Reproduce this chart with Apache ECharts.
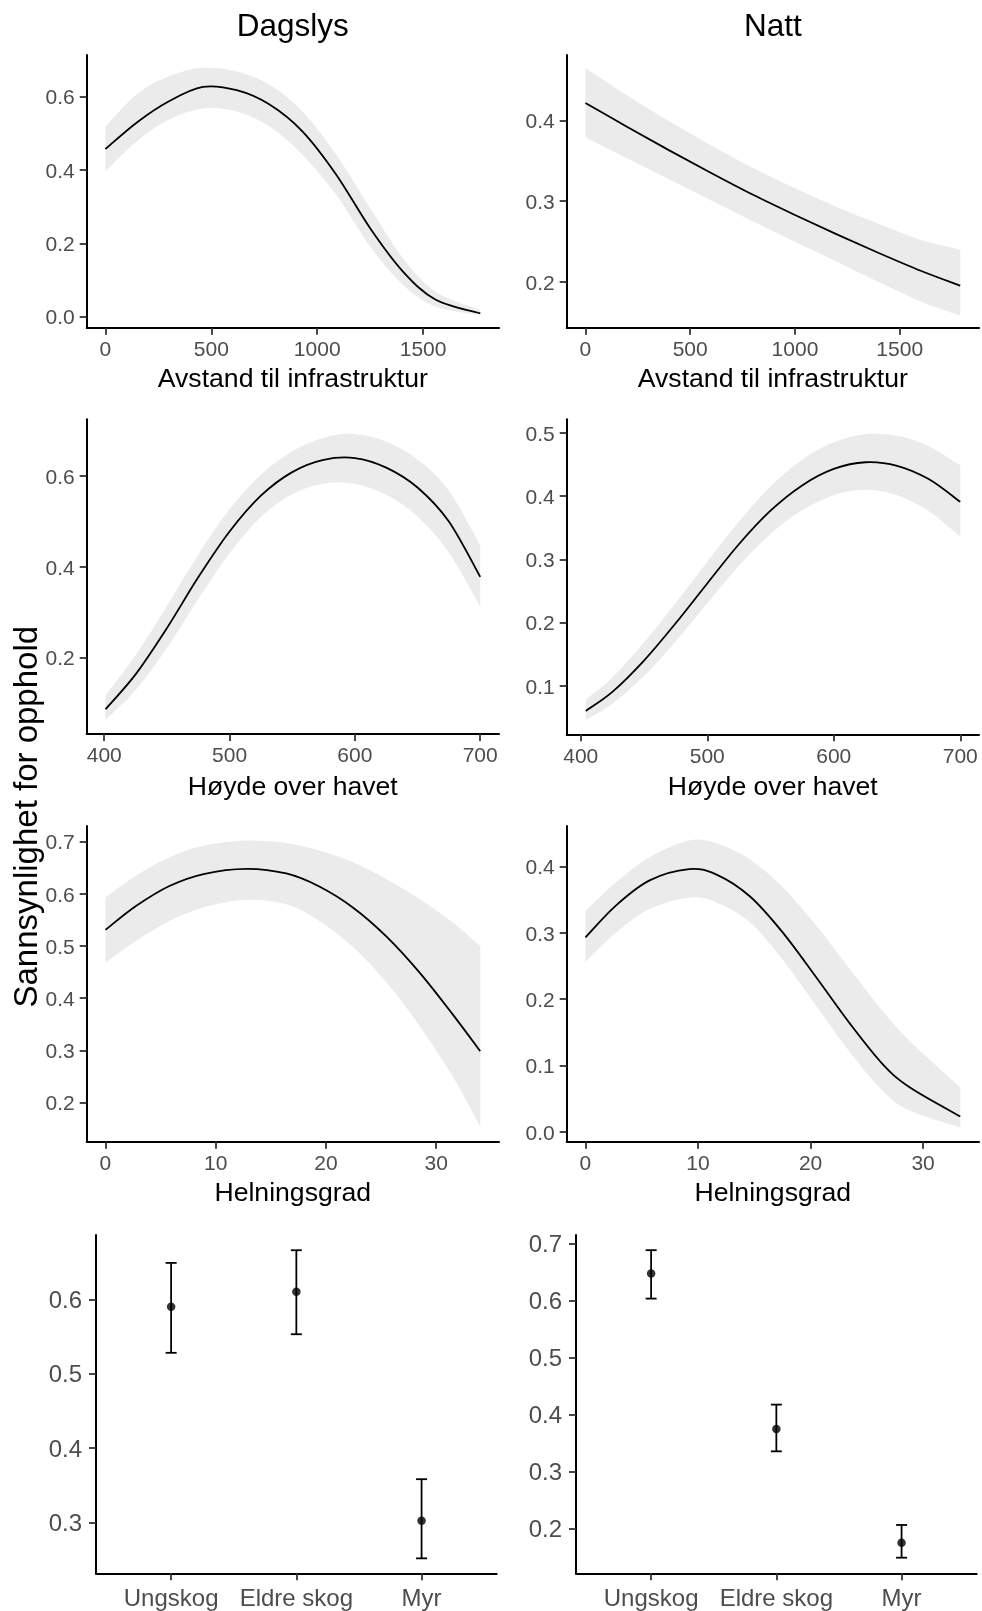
<!DOCTYPE html>
<html>
<head>
<meta charset="utf-8">
<script src="https://cdn.jsdelivr.net/npm/echarts@6/dist/echarts.min.js"></script>
<style>
html,body{margin:0;padding:0;background:#fff;}
#chart{width:982px;height:1611px;}
</style>
</head>
<body>
<div id="chart"></div>
<script>
// ---------- DATA ----------
// Dagslys – Avstand til infrastruktur
const dagAvstX   = [0, 150, 300, 460, 620, 775, 930, 1090, 1250, 1405, 1560, 1770];
const dagAvstFit = [0.457, 0.530, 0.587, 0.626, 0.617, 0.578, 0.505, 0.387, 0.241, 0.123, 0.046, 0.009];
const dagAvstHi  = [0.518, 0.607, 0.655, 0.678, 0.668, 0.632, 0.559, 0.441, 0.296, 0.159, 0.068, 0.018];
const dagAvstLo  = [0.396, 0.479, 0.537, 0.567, 0.559, 0.518, 0.441, 0.332, 0.191, 0.0865, 0.027, 0.0046];
// Natt – Avstand til infrastruktur
const nattAvstX   = [0, 200, 400, 600, 800, 1000, 1200, 1400, 1600, 1789];
const nattAvstFit = [0.4216, 0.392, 0.363, 0.335, 0.308, 0.283, 0.259, 0.236, 0.214, 0.1955];
const nattAvstHi  = [0.465, 0.431, 0.399, 0.369, 0.341, 0.316, 0.293, 0.272, 0.252, 0.240];
const nattAvstLo  = [0.379, 0.353, 0.327, 0.301, 0.275, 0.250, 0.225, 0.200, 0.176, 0.1586];
// Dagslys – Høyde over havet
const dagHoydeX   = [401, 425, 450, 475, 500, 525, 550, 575, 600, 625, 650, 675, 700];
const dagHoydeFit = [0.086, 0.163, 0.265, 0.377, 0.478, 0.557, 0.609, 0.636, 0.640, 0.619, 0.575, 0.500, 0.378];
const dagHoydeHi  = [0.116, 0.205, 0.314, 0.427, 0.527, 0.603, 0.655, 0.685, 0.693, 0.676, 0.637, 0.568, 0.448];
const dagHoydeLo  = [0.063, 0.128, 0.221, 0.329, 0.430, 0.510, 0.560, 0.584, 0.583, 0.559, 0.511, 0.432, 0.313];
// Natt – Høyde over havet
const nattHoydeX   = [404, 425, 450, 475, 500, 525, 550, 575, 600, 625, 650, 675, 700];
const nattHoydeFit = [0.0605, 0.0905, 0.140, 0.199, 0.262, 0.324, 0.377, 0.417, 0.443, 0.4536, 0.448, 0.427, 0.391];
const nattHoydeHi  = [0.0788, 0.1133, 0.1686, 0.231, 0.2962, 0.360, 0.4153, 0.4577, 0.4852, 0.498, 0.4953, 0.4789, 0.4488];
const nattHoydeLo  = [0.0462, 0.0719, 0.1155, 0.1704, 0.2305, 0.290, 0.3403, 0.3776, 0.4015, 0.410, 0.4016, 0.3765, 0.3359];
// Dagslys – Helningsgrad
const dagHelnX   = [0, 2.8, 5.8, 8.9, 12.8, 16.4, 19.4, 22.5, 25.5, 28.5, 31.5, 34];
const dagHelnFit = [0.531, 0.577, 0.615, 0.638, 0.648, 0.639, 0.614, 0.573, 0.518, 0.449, 0.369, 0.2985];
const dagHelnHi  = [0.593, 0.635, 0.670, 0.692, 0.702, 0.6975, 0.683, 0.660, 0.628, 0.590, 0.545, 0.500];
const dagHelnLo  = [0.468, 0.510, 0.548, 0.574, 0.5886, 0.580, 0.548, 0.497, 0.430, 0.3466, 0.250, 0.1545];
// Natt – Helningsgrad
const nattHelnX   = [0, 2.7, 5.7, 9.2, 11.6, 14.6, 17.5, 20.5, 23.5, 26.4, 28.8, 33.3];
const nattHelnFit = [0.293, 0.341, 0.379, 0.396, 0.388, 0.355, 0.301, 0.233, 0.163, 0.102, 0.067, 0.023];
const nattHelnHi  = [0.333, 0.376, 0.414, 0.439, 0.435, 0.411, 0.369, 0.311, 0.245, 0.182, 0.137, 0.067];
const nattHelnLo  = [0.256, 0.300, 0.336, 0.353, 0.346, 0.316, 0.260, 0.190, 0.120, 0.062, 0.032, 0.0065];
// Habitat
const habitat    = ['Ungskog', 'Eldre skog', 'Myr'];
const habitatPos = [1, 2, 3];
const dagHab     = [0.590, 0.610, 0.302];
const dagHabLo   = [0.528, 0.553, 0.2515];
const dagHabHi   = [0.649, 0.666, 0.358];
const nattHab    = [0.647, 0.374, 0.1747];
const nattHabLo  = [0.603, 0.335, 0.1484];
const nattHabHi  = [0.688, 0.417, 0.2058];
// Tick labels
const ticksAvst  = [0, 500, 1000, 1500];
const ticksHoyde = [400, 500, 600, 700];
const ticksHeln  = [0, 10, 20, 30];
const yTicks1 = [0.0, 0.2, 0.4, 0.6];
const yTicks2 = [0.2, 0.3, 0.4];
const yTicks3 = [0.2, 0.4, 0.6];
const yTicks4 = [0.1, 0.2, 0.3, 0.4, 0.5];
const yTicks5 = [0.2, 0.3, 0.4, 0.5, 0.6, 0.7];
const yTicks6 = [0.0, 0.1, 0.2, 0.3, 0.4];
const yTicks7 = [0.3, 0.4, 0.5, 0.6];
const yTicks8 = [0.2, 0.3, 0.4, 0.5, 0.6, 0.7];

// ---------- LAYOUT ----------
const FONT = "'Liberation Sans', Arial, Helvetica, sans-serif";
const panels = [
  {box:[86.7, 55, 412.3, 272.7],   xr:[-88.5, 1858.5], yr:[-0.030, 0.713],  xt:ticksAvst,  yt:yTicks1, fs:21},
  {box:[566.7, 55, 412.3, 272.7],  xr:[-89.5, 1878.5], yr:[0.1435, 0.481],  xt:ticksAvst,  yt:yTicks2, fs:21},
  {box:[86.7, 419.3, 412.3, 314.7],xr:[386, 715],      yr:[0.0315, 0.7255], xt:ticksHoyde, yt:yTicks3, fs:21},
  {box:[566.7, 419.3, 412.3, 315], xr:[388.9, 714.8],  yr:[0.0235, 0.5215], xt:ticksHoyde, yt:yTicks4, fs:21},
  {box:[86.7, 826, 412.3, 315.7],  xr:[-1.7, 35.7],    yr:[0.125, 0.730],   xt:ticksHeln,  yt:yTicks5, fs:21},
  {box:[566.7, 826, 412.3, 315.7], xr:[-1.665, 34.965],yr:[-0.015, 0.461],  xt:ticksHeln,  yt:yTicks6, fs:21},
  {box:[96, 1235, 400.7, 338.3],   xr:[0.4, 3.6],      yr:[0.2314, 0.6865], xt:habitatPos, yt:yTicks7, fs:24, cat:true},
  {box:[576, 1235, 400.7, 338.3],  xr:[0.4, 3.6],      yr:[0.121, 0.7146],  xt:habitatPos, yt:yTicks8, fs:24, cat:true}
];

const grids = [], xAxes = [], yAxes = [];
panels.forEach((p, i) => {
  grids.push({left:p.box[0], top:p.box[1], width:p.box[2], height:p.box[3], containLabel:false, outerBoundsMode:'none'});
  xAxes.push({
    type:'value', gridIndex:i, min:p.xr[0], max:p.xr[1], z:5,
    axisLine:{show:true, onZero:false, lineStyle:{color:'#000', width:2}},
    axisTick:{show:true, length:7, customValues:p.xt, lineStyle:{color:'#333', width:1.8}},
    axisLabel:{show:true, customValues:p.xt, margin:p.cat ? 14 : 12, fontSize:p.fs, fontFamily:FONT, color:'#4d4d4d',
      formatter: p.cat ? (v => habitat[Math.round(v) - 1]) : (v => String(v))},
    splitLine:{show:false}
  });
  yAxes.push({
    type:'value', gridIndex:i, min:p.yr[0], max:p.yr[1], z:5,
    axisLine:{show:true, onZero:false, lineStyle:{color:'#000', width:2}},
    axisTick:{show:true, length:7, customValues:p.yt, lineStyle:{color:'#333', width:1.8}},
    axisLabel:{show:true, customValues:p.yt, margin:p.cat ? 14 : 12, verticalAlign:'top', lineHeight:4,
      fontSize:p.fs, fontFamily:FONT, color:'#4d4d4d', formatter: v => v.toFixed(1)},
    splitLine:{show:false}
  });
});

// Catmull-Rom spline through pixel points -> SVG path commands
function splinePath(pts, moveCmd) {
  let d = moveCmd + pts[0][0] + ',' + pts[0][1];
  for (let i = 0; i < pts.length - 1; i++) {
    const p0 = pts[i - 1] || pts[i], p1 = pts[i], p2 = pts[i + 1], p3 = pts[i + 2] || pts[i + 1];
    const c1x = p1[0] + (p2[0] - p0[0]) / 6, c1y = p1[1] + (p2[1] - p0[1]) / 6;
    const c2x = p2[0] - (p3[0] - p1[0]) / 6, c2y = p2[1] - (p3[1] - p1[1]) / 6;
    d += 'C' + c1x + ',' + c1y + ',' + c2x + ',' + c2y + ',' + p2[0] + ',' + p2[1];
  }
  return d;
}

const series = [];
function addRibbon(i, xs, lo, hi, fit) {
  series.push({
    type:'custom', xAxisIndex:i, yAxisIndex:i, silent:true, clip:false,
    data: xs.map((x, k) => [x, lo[k], hi[k], fit[k]]),
    encode:{x:0, y:[1, 2, 3]},
    renderItem:(params, api) => {
      if (params.dataIndexInside !== 0) return null;
      const n = params.dataInsideLength;
      const up = [], dn = [], mid = [];
      for (let k = 0; k < n; k++) {
        const x = api.value(0, k);
        dn.push(api.coord([x, api.value(1, k)]));
        up.push(api.coord([x, api.value(2, k)]));
        mid.push(api.coord([x, api.value(3, k)]));
      }
      const band = splinePath(up, 'M') + splinePath(dn.slice().reverse(), 'L') + 'Z';
      return {type:'group', children:[
        {type:'path', shape:{pathData:band}, style:{fill:'#ebebeb', stroke:'none'}},
        {type:'path', shape:{pathData:splinePath(mid, 'M')}, style:{fill:'none', stroke:'#000', lineWidth:1.8, lineJoin:'round'}}
      ]};
    }
  });
}
addRibbon(0, dagAvstX, dagAvstLo, dagAvstHi, dagAvstFit);
addRibbon(1, nattAvstX, nattAvstLo, nattAvstHi, nattAvstFit);
addRibbon(2, dagHoydeX, dagHoydeLo, dagHoydeHi, dagHoydeFit);
addRibbon(3, nattHoydeX, nattHoydeLo, nattHoydeHi, nattHoydeFit);
addRibbon(4, dagHelnX, dagHelnLo, dagHelnHi, dagHelnFit);
addRibbon(5, nattHelnX, nattHelnLo, nattHelnHi, nattHelnFit);

function addErr(i, est, lo, hi) {
  series.push({
    type:'custom', xAxisIndex:i, yAxisIndex:i, silent:true,
    data: habitatPos.map((x, k) => [x, lo[k], hi[k]]),
    encode:{x:0, y:[1, 2]},
    renderItem:(params, api) => {
      const x = api.value(0);
      const pt = api.coord([x, api.value(2)]);
      const pb = api.coord([x, api.value(1)]);
      const w = 5.5;
      const st = {stroke:'#000', lineWidth:1.8, fill:'none'};
      return {type:'group', children:[
        {type:'line', shape:{x1:pb[0], y1:pb[1], x2:pt[0], y2:pt[1]}, style:st},
        {type:'line', shape:{x1:pt[0]-w, y1:pt[1], x2:pt[0]+w, y2:pt[1]}, style:st},
        {type:'line', shape:{x1:pb[0]-w, y1:pb[1], x2:pb[0]+w, y2:pb[1]}, style:st}
      ]};
    }
  });
  series.push({type:'scatter', xAxisIndex:i, yAxisIndex:i, silent:true, symbolSize:8.5,
    data:habitatPos.map((x, k) => [x, est[k]]), itemStyle:{color:'#000'}});
}
addErr(6, dagHab, dagHabLo, dagHabHi);
addErr(7, nattHab, nattHabLo, nattHabHi);

function txt(x, y, text, size, rot) {
  return {type:'text', x:x, y:y, rotation:rot || 0, z:10,
    style:{text:text, fontSize:size, fontFamily:FONT, fill:'#000', align:'center', verticalAlign:'middle'}};
}
const graphics = [
  txt(292.8, 27, 'Dagslys', 31.5),
  txt(772.8, 27, 'Natt', 31.5),
  txt(292.8, 379.5, 'Avstand til infrastruktur', 26.6),
  txt(772.8, 379.5, 'Avstand til infrastruktur', 26.6),
  txt(292.8, 787.5, 'Høyde over havet', 26.6),
  txt(772.8, 787.5, 'Høyde over havet', 26.6),
  txt(292.8, 1193.5, 'Helningsgrad', 26.6),
  txt(772.8, 1193.5, 'Helningsgrad', 26.6),
  txt(27.5, 816.7, 'Sannsynlighet for opphold', 33, Math.PI / 2)
];

const chart = echarts.init(document.getElementById('chart'), null, {renderer:'canvas'});
chart.setOption({
  animation:false,
  backgroundColor:'#ffffff',
  grid:grids, xAxis:xAxes, yAxis:yAxes,
  series:series,
  graphic:graphics
});
</script>
</body>
</html>
